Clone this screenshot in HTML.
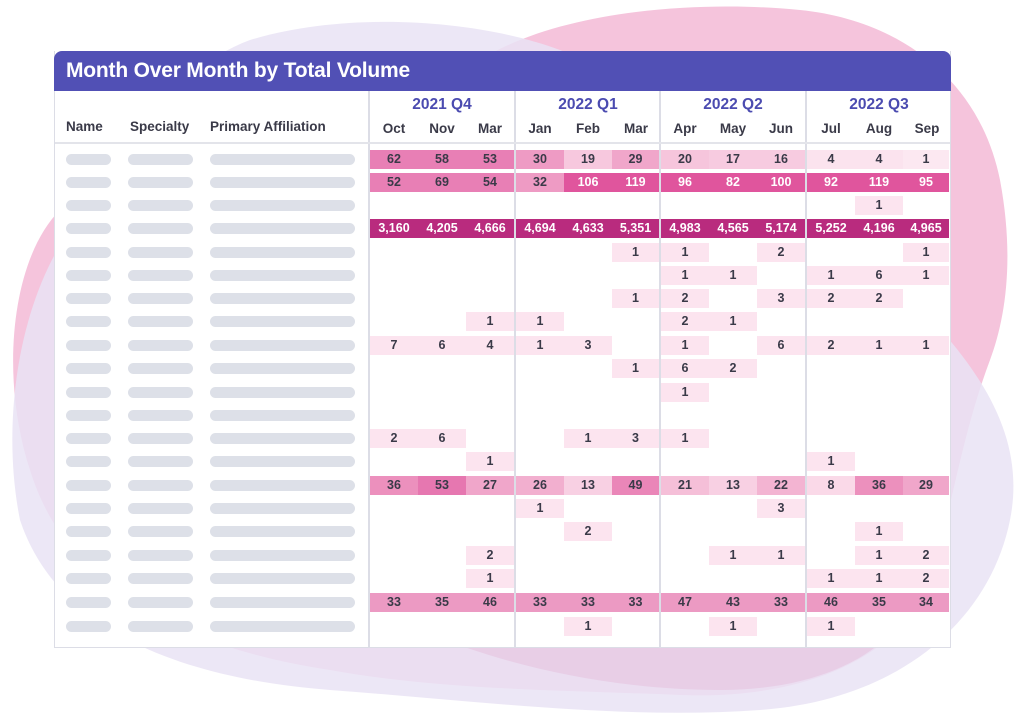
<!DOCTYPE html>
<html><head><meta charset="utf-8"><style>
body{margin:0;width:1024px;height:719px;background:#fff;position:relative;overflow:hidden;font-family:"Liberation Sans",sans-serif}
.a{position:absolute}
.card{left:54px;top:51px;width:897px;height:597px;background:#fff;border:1px solid #dcdde6;border-top:none;box-sizing:border-box}
.hd{left:54px;top:51px;width:897px;height:40px;background:#5150b5;border-radius:8px 8px 0 0;color:#fff;font-weight:bold;font-size:21px;line-height:40px;padding-left:12px;box-sizing:border-box;letter-spacing:-0.2px}
.vl{top:91px;width:2px;height:557px;background:#dcdde6}
.hl{left:55px;top:142px;width:895px;height:2px;background:#e3e4ea}
.lab{font-size:13.5px;font-weight:bold;color:#3a3a48;top:119px}
.q{font-size:15.5px;font-weight:bold;color:#4b4bb0;top:96px;width:144px;text-align:center}
.m{font-size:13.5px;font-weight:bold;color:#3a3a48;top:121px;width:48px;text-align:center}
.p{height:11px;border-radius:6px;background:#dde0e8}
.c{height:19px;line-height:19px;font-size:12.5px;font-weight:bold;color:#3a3a48;text-align:center}
.w{color:#fff}
</style></head><body>
<svg class="a" style="left:0;top:0" width="1024" height="719">
<path d="M480 60 C560 10 700 0 800 10 C900 20 980 80 1000 180 C1015 260 1005 320 990 360 C960 440 950 520 930 580 C900 660 800 700 680 695 C560 690 440 690 330 670 C200 650 70 600 30 470 C0 380 10 260 60 210 C120 150 200 130 280 110 C360 90 420 90 480 60 Z" fill="#f5c4dc"/>
<path d="M250 40 C350 10 480 20 560 50 C640 80 760 160 860 250 C960 340 1030 420 1010 520 C990 620 900 700 760 710 C620 720 470 700 330 690 C200 680 60 640 20 520 C0 420 20 300 70 230 C120 150 170 70 250 40 Z" fill="#e9e3f5" opacity="0.85"/>
<path d="M560 60 C640 90 740 160 820 260 C880 340 920 420 930 520 C940 620 860 690 720 690 C600 690 480 660 400 620 L400 200 C440 120 500 70 560 60 Z" fill="#e6c3e0" opacity="0.6"/>
</svg>
<div class="a card"></div>
<div class="a hd">Month Over Month by Total Volume</div>
<div class="a vl" style="left:368px"></div><div class="a vl" style="left:514px"></div><div class="a vl" style="left:659px"></div><div class="a vl" style="left:805px"></div>
<div class="a hl"></div>
<div class="a lab" style="left:66px">Name</div><div class="a lab" style="left:130px">Specialty</div><div class="a lab" style="left:210px">Primary Affiliation</div>
<div class="a q" style="left:370px">2021 Q4</div><div class="a q" style="left:516px">2022 Q1</div><div class="a q" style="left:661px">2022 Q2</div><div class="a q" style="left:807px">2022 Q3</div>
<div class="a m" style="left:370px">Oct</div><div class="a m" style="left:418px">Nov</div><div class="a m" style="left:466px">Mar</div>
<div class="a m" style="left:516px">Jan</div><div class="a m" style="left:564px">Feb</div><div class="a m" style="left:612px">Mar</div>
<div class="a m" style="left:661px">Apr</div><div class="a m" style="left:709px">May</div><div class="a m" style="left:757px">Jun</div>
<div class="a m" style="left:807px">Jul</div><div class="a m" style="left:855px">Aug</div><div class="a m" style="left:903px">Sep</div>
<div class="a p" style="left:66px;top:154px;width:45px"></div><div class="a p" style="left:128px;top:154px;width:65px"></div><div class="a p" style="left:210px;top:154px;width:145px"></div>
<div class="a p" style="left:66px;top:177px;width:45px"></div><div class="a p" style="left:128px;top:177px;width:65px"></div><div class="a p" style="left:210px;top:177px;width:145px"></div>
<div class="a p" style="left:66px;top:200px;width:45px"></div><div class="a p" style="left:128px;top:200px;width:65px"></div><div class="a p" style="left:210px;top:200px;width:145px"></div>
<div class="a p" style="left:66px;top:223px;width:45px"></div><div class="a p" style="left:128px;top:223px;width:65px"></div><div class="a p" style="left:210px;top:223px;width:145px"></div>
<div class="a p" style="left:66px;top:247px;width:45px"></div><div class="a p" style="left:128px;top:247px;width:65px"></div><div class="a p" style="left:210px;top:247px;width:145px"></div>
<div class="a p" style="left:66px;top:270px;width:45px"></div><div class="a p" style="left:128px;top:270px;width:65px"></div><div class="a p" style="left:210px;top:270px;width:145px"></div>
<div class="a p" style="left:66px;top:293px;width:45px"></div><div class="a p" style="left:128px;top:293px;width:65px"></div><div class="a p" style="left:210px;top:293px;width:145px"></div>
<div class="a p" style="left:66px;top:316px;width:45px"></div><div class="a p" style="left:128px;top:316px;width:65px"></div><div class="a p" style="left:210px;top:316px;width:145px"></div>
<div class="a p" style="left:66px;top:340px;width:45px"></div><div class="a p" style="left:128px;top:340px;width:65px"></div><div class="a p" style="left:210px;top:340px;width:145px"></div>
<div class="a p" style="left:66px;top:363px;width:45px"></div><div class="a p" style="left:128px;top:363px;width:65px"></div><div class="a p" style="left:210px;top:363px;width:145px"></div>
<div class="a p" style="left:66px;top:387px;width:45px"></div><div class="a p" style="left:128px;top:387px;width:65px"></div><div class="a p" style="left:210px;top:387px;width:145px"></div>
<div class="a p" style="left:66px;top:410px;width:45px"></div><div class="a p" style="left:128px;top:410px;width:65px"></div><div class="a p" style="left:210px;top:410px;width:145px"></div>
<div class="a p" style="left:66px;top:433px;width:45px"></div><div class="a p" style="left:128px;top:433px;width:65px"></div><div class="a p" style="left:210px;top:433px;width:145px"></div>
<div class="a p" style="left:66px;top:456px;width:45px"></div><div class="a p" style="left:128px;top:456px;width:65px"></div><div class="a p" style="left:210px;top:456px;width:145px"></div>
<div class="a p" style="left:66px;top:480px;width:45px"></div><div class="a p" style="left:128px;top:480px;width:65px"></div><div class="a p" style="left:210px;top:480px;width:145px"></div>
<div class="a p" style="left:66px;top:503px;width:45px"></div><div class="a p" style="left:128px;top:503px;width:65px"></div><div class="a p" style="left:210px;top:503px;width:145px"></div>
<div class="a p" style="left:66px;top:526px;width:45px"></div><div class="a p" style="left:128px;top:526px;width:65px"></div><div class="a p" style="left:210px;top:526px;width:145px"></div>
<div class="a p" style="left:66px;top:550px;width:45px"></div><div class="a p" style="left:128px;top:550px;width:65px"></div><div class="a p" style="left:210px;top:550px;width:145px"></div>
<div class="a p" style="left:66px;top:573px;width:45px"></div><div class="a p" style="left:128px;top:573px;width:65px"></div><div class="a p" style="left:210px;top:573px;width:145px"></div>
<div class="a p" style="left:66px;top:597px;width:45px"></div><div class="a p" style="left:128px;top:597px;width:65px"></div><div class="a p" style="left:210px;top:597px;width:145px"></div>
<div class="a p" style="left:66px;top:621px;width:45px"></div><div class="a p" style="left:128px;top:621px;width:65px"></div><div class="a p" style="left:210px;top:621px;width:145px"></div>
<div class="a c" style="left:370px;top:150px;width:48px;background:#e87fb5">62</div><div class="a c" style="left:418px;top:150px;width:48px;background:#e87fb5">58</div><div class="a c" style="left:466px;top:150px;width:48px;background:#e87fb5">53</div>
<div class="a c" style="left:516px;top:150px;width:48px;background:#ee9bc4">30</div><div class="a c" style="left:564px;top:150px;width:48px;background:#f7c8de">19</div><div class="a c" style="left:612px;top:150px;width:47px;background:#f0a6ca">29</div>
<div class="a c" style="left:661px;top:150px;width:48px;background:#f6c5dc">20</div><div class="a c" style="left:709px;top:150px;width:48px;background:#f7cbe0">17</div><div class="a c" style="left:757px;top:150px;width:48px;background:#f7cbe0">16</div>
<div class="a c" style="left:807px;top:150px;width:48px;background:#fbe3ee">4</div><div class="a c" style="left:855px;top:150px;width:48px;background:#fbe3ee">4</div><div class="a c" style="left:903px;top:150px;width:46px;background:#fce8f1">1</div>
<div class="a c" style="left:370px;top:173px;width:48px;background:#e87fb5">52</div><div class="a c" style="left:418px;top:173px;width:48px;background:#e87fb5">69</div><div class="a c" style="left:466px;top:173px;width:48px;background:#e87fb5">54</div>
<div class="a c" style="left:516px;top:173px;width:48px;background:#ee9bc4">32</div><div class="a c w" style="left:564px;top:173px;width:48px;background:#e0559d">106</div><div class="a c w" style="left:612px;top:173px;width:47px;background:#e0559d">119</div>
<div class="a c w" style="left:661px;top:173px;width:48px;background:#e0559d">96</div><div class="a c w" style="left:709px;top:173px;width:48px;background:#e0559d">82</div><div class="a c w" style="left:757px;top:173px;width:48px;background:#e0559d">100</div>
<div class="a c w" style="left:807px;top:173px;width:48px;background:#e0559d">92</div><div class="a c w" style="left:855px;top:173px;width:48px;background:#e0559d">119</div><div class="a c w" style="left:903px;top:173px;width:46px;background:#e0559d">95</div>
<div class="a c" style="left:855px;top:196px;width:48px;background:#fce4ef">1</div>
<div class="a c w" style="left:370px;top:219px;width:48px;background:#b92b7e">3,160</div><div class="a c w" style="left:418px;top:219px;width:48px;background:#b92b7e">4,205</div><div class="a c w" style="left:466px;top:219px;width:48px;background:#b92b7e">4,666</div>
<div class="a c w" style="left:516px;top:219px;width:48px;background:#b92b7e">4,694</div><div class="a c w" style="left:564px;top:219px;width:48px;background:#b92b7e">4,633</div><div class="a c w" style="left:612px;top:219px;width:47px;background:#b92b7e">5,351</div>
<div class="a c w" style="left:661px;top:219px;width:48px;background:#b92b7e">4,983</div><div class="a c w" style="left:709px;top:219px;width:48px;background:#b92b7e">4,565</div><div class="a c w" style="left:757px;top:219px;width:48px;background:#b92b7e">5,174</div>
<div class="a c w" style="left:807px;top:219px;width:48px;background:#b92b7e">5,252</div><div class="a c w" style="left:855px;top:219px;width:48px;background:#b92b7e">4,196</div><div class="a c w" style="left:903px;top:219px;width:46px;background:#b92b7e">4,965</div>
<div class="a c" style="left:612px;top:243px;width:47px;background:#fce4ef">1</div><div class="a c" style="left:661px;top:243px;width:48px;background:#fce4ef">1</div><div class="a c" style="left:757px;top:243px;width:48px;background:#fce4ef">2</div><div class="a c" style="left:903px;top:243px;width:46px;background:#fce4ef">1</div>
<div class="a c" style="left:661px;top:266px;width:48px;background:#fce4ef">1</div><div class="a c" style="left:709px;top:266px;width:48px;background:#fce4ef">1</div><div class="a c" style="left:807px;top:266px;width:48px;background:#fce4ef">1</div><div class="a c" style="left:855px;top:266px;width:48px;background:#fce4ef">6</div><div class="a c" style="left:903px;top:266px;width:46px;background:#fce4ef">1</div>
<div class="a c" style="left:612px;top:289px;width:47px;background:#fce4ef">1</div><div class="a c" style="left:661px;top:289px;width:48px;background:#fce4ef">2</div><div class="a c" style="left:757px;top:289px;width:48px;background:#fce4ef">3</div><div class="a c" style="left:807px;top:289px;width:48px;background:#fce4ef">2</div><div class="a c" style="left:855px;top:289px;width:48px;background:#fce4ef">2</div>
<div class="a c" style="left:466px;top:312px;width:48px;background:#fce4ef">1</div><div class="a c" style="left:516px;top:312px;width:48px;background:#fce4ef">1</div><div class="a c" style="left:661px;top:312px;width:48px;background:#fce4ef">2</div><div class="a c" style="left:709px;top:312px;width:48px;background:#fce4ef">1</div>
<div class="a c" style="left:370px;top:336px;width:48px;background:#fce4ef">7</div><div class="a c" style="left:418px;top:336px;width:48px;background:#fce4ef">6</div><div class="a c" style="left:466px;top:336px;width:48px;background:#fce4ef">4</div><div class="a c" style="left:516px;top:336px;width:48px;background:#fce4ef">1</div><div class="a c" style="left:564px;top:336px;width:48px;background:#fce4ef">3</div><div class="a c" style="left:661px;top:336px;width:48px;background:#fce4ef">1</div><div class="a c" style="left:757px;top:336px;width:48px;background:#fce4ef">6</div><div class="a c" style="left:807px;top:336px;width:48px;background:#fce4ef">2</div><div class="a c" style="left:855px;top:336px;width:48px;background:#fce4ef">1</div><div class="a c" style="left:903px;top:336px;width:46px;background:#fce4ef">1</div>
<div class="a c" style="left:612px;top:359px;width:47px;background:#fce4ef">1</div><div class="a c" style="left:661px;top:359px;width:48px;background:#fce4ef">6</div><div class="a c" style="left:709px;top:359px;width:48px;background:#fce4ef">2</div>
<div class="a c" style="left:661px;top:383px;width:48px;background:#fce4ef">1</div>
<div class="a c" style="left:370px;top:429px;width:48px;background:#fce4ef">2</div><div class="a c" style="left:418px;top:429px;width:48px;background:#fce4ef">6</div><div class="a c" style="left:564px;top:429px;width:48px;background:#fce4ef">1</div><div class="a c" style="left:612px;top:429px;width:47px;background:#fce4ef">3</div><div class="a c" style="left:661px;top:429px;width:48px;background:#fce4ef">1</div>
<div class="a c" style="left:466px;top:452px;width:48px;background:#fce4ef">1</div><div class="a c" style="left:807px;top:452px;width:48px;background:#fce4ef">1</div>
<div class="a c" style="left:370px;top:476px;width:48px;background:#ec90bd">36</div><div class="a c" style="left:418px;top:476px;width:48px;background:#e677b0">53</div><div class="a c" style="left:466px;top:476px;width:48px;background:#f0a6ca">27</div>
<div class="a c" style="left:516px;top:476px;width:48px;background:#f2afcf">26</div><div class="a c" style="left:564px;top:476px;width:48px;background:#f8d0e3">13</div><div class="a c" style="left:612px;top:476px;width:47px;background:#ea86b8">49</div>
<div class="a c" style="left:661px;top:476px;width:48px;background:#f5bfd8">21</div><div class="a c" style="left:709px;top:476px;width:48px;background:#f8d0e3">13</div><div class="a c" style="left:757px;top:476px;width:48px;background:#f3b4d2">22</div>
<div class="a c" style="left:807px;top:476px;width:48px;background:#fad9e8">8</div><div class="a c" style="left:855px;top:476px;width:48px;background:#ec90bd">36</div><div class="a c" style="left:903px;top:476px;width:46px;background:#f0a6ca">29</div>
<div class="a c" style="left:516px;top:499px;width:48px;background:#fce4ef">1</div><div class="a c" style="left:757px;top:499px;width:48px;background:#fce4ef">3</div>
<div class="a c" style="left:564px;top:522px;width:48px;background:#fce4ef">2</div><div class="a c" style="left:855px;top:522px;width:48px;background:#fce4ef">1</div>
<div class="a c" style="left:466px;top:546px;width:48px;background:#fce4ef">2</div><div class="a c" style="left:709px;top:546px;width:48px;background:#fce4ef">1</div><div class="a c" style="left:757px;top:546px;width:48px;background:#fce4ef">1</div><div class="a c" style="left:855px;top:546px;width:48px;background:#fce4ef">1</div><div class="a c" style="left:903px;top:546px;width:46px;background:#fce4ef">2</div>
<div class="a c" style="left:466px;top:569px;width:48px;background:#fce4ef">1</div><div class="a c" style="left:807px;top:569px;width:48px;background:#fce4ef">1</div><div class="a c" style="left:855px;top:569px;width:48px;background:#fce4ef">1</div><div class="a c" style="left:903px;top:569px;width:46px;background:#fce4ef">2</div>
<div class="a c" style="left:370px;top:593px;width:48px;background:#ec9ac3">33</div><div class="a c" style="left:418px;top:593px;width:48px;background:#ec9ac3">35</div><div class="a c" style="left:466px;top:593px;width:48px;background:#ec9ac3">46</div>
<div class="a c" style="left:516px;top:593px;width:48px;background:#ec9ac3">33</div><div class="a c" style="left:564px;top:593px;width:48px;background:#ec9ac3">33</div><div class="a c" style="left:612px;top:593px;width:47px;background:#ec9ac3">33</div>
<div class="a c" style="left:661px;top:593px;width:48px;background:#ec9ac3">47</div><div class="a c" style="left:709px;top:593px;width:48px;background:#ec9ac3">43</div><div class="a c" style="left:757px;top:593px;width:48px;background:#ec9ac3">33</div>
<div class="a c" style="left:807px;top:593px;width:48px;background:#ec9ac3">46</div><div class="a c" style="left:855px;top:593px;width:48px;background:#ec9ac3">35</div><div class="a c" style="left:903px;top:593px;width:46px;background:#ec9ac3">34</div>
<div class="a c" style="left:564px;top:617px;width:48px;background:#fce4ef">1</div><div class="a c" style="left:709px;top:617px;width:48px;background:#fce4ef">1</div><div class="a c" style="left:807px;top:617px;width:48px;background:#fce4ef">1</div>
</body></html>
